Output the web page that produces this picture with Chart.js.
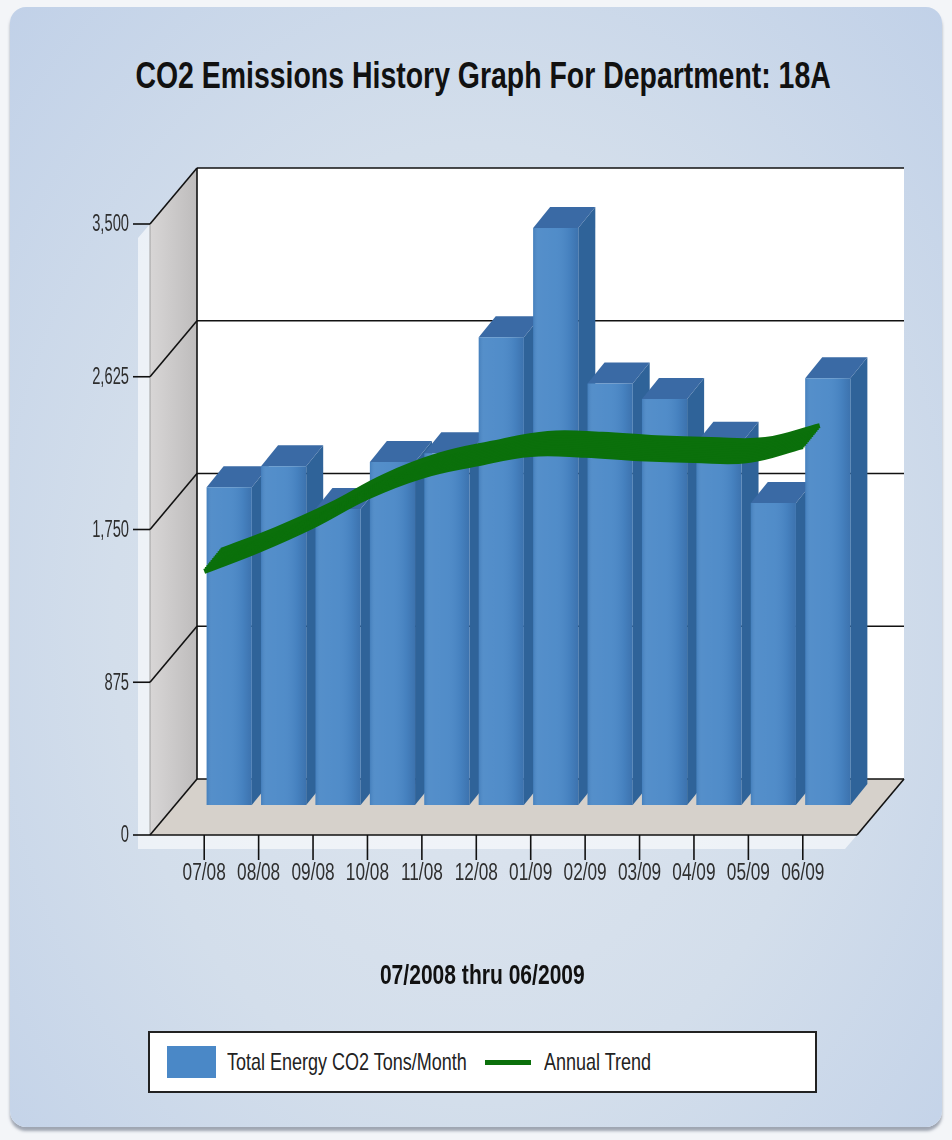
<!DOCTYPE html>
<html>
<head>
<meta charset="utf-8">
<title>CO2 Emissions History Graph For Department: 18A</title>
<script src="https://cdn.jsdelivr.net/npm/chart.js@4.4.1/dist/chart.umd.min.js"></script>
<style>
  html, body { margin: 0; padding: 0; background: #f3f5f8; }
  body {
    width: 952px; height: 1140px; position: relative; overflow: hidden;
    font-family: 'Liberation Sans', Arial, sans-serif;
  }
  .panel {
    position: absolute; left: 10px; top: 7px; width: 932px; height: 1120px;
    border-radius: 16px;
    background: radial-gradient(ellipse at 50% 55%, #dfe6ef 0%, #d3deeb 55%, #c1d1e8 100%);
    box-shadow: 0 4px 3px rgba(90, 100, 120, 0.55);
  }
  #wrap { position: absolute; left: 0; top: 0; width: 952px; height: 1140px; }
  .title, .range {
    position: absolute; left: 0; width: 966px; margin: 0;
    text-align: center; font-weight: bold; color: #111;
  }
  .title { top: 55px; font-size: 36px; line-height: 42px; }
  .range { top: 958px; font-size: 27px; line-height: 34px; width: 964px; }
  .narrow { display: inline-block; white-space: nowrap; }
  #legend {
    position: absolute; left: 148px; top: 1031px; width: 669px; height: 62px;
    box-sizing: border-box; background: #fff; border: 2px solid #222;
    display: flex; align-items: center; padding-left: 17px;
    font-size: 24px; color: #222;
  }
  #legend .narrow { transform-origin: left center; }
  .swatch { width: 49px; height: 32px; margin-right: 11px; flex: none; }
  .stroke { width: 46px; height: 5px; margin: 0 13px 0 18px; flex: none; }
</style>
</head>
<body>
<div class="panel"></div>
<div class="title"><span class="narrow" style="transform: scaleX(0.79)">CO2 Emissions History Graph For Department: 18A</span></div>
<div id="wrap"><canvas id="chart"></canvas></div>
<div class="range"><span class="narrow" style="transform: scaleX(0.78)">07/2008 thru 06/2009</span></div>
<div id="legend"></div>
<script>
const months = ['07/08', '08/08', '09/08', '10/08', '11/08', '12/08',
                '01/09', '02/09', '03/09', '04/09', '05/09', '06/09'];
const co2Tons = [1820, 1940, 1695, 1965, 2015, 2680, 3305, 2415, 2325, 2075, 1730, 2445];
const annualTrend = [1510, 1630, 1770, 1935, 2055, 2125, 2180, 2175, 2155, 2145, 2145, 2225];
const yMax = 3500;
const yStep = 875;

const FONT = "'Liberation Sans', Arial, sans-serif";
const BAR_BLUE = '#4a88c7';
const TREND_GREEN = '#0b700b';
const LEGEND_SQUEEZE = 0.75;

// depth offsets of the front edge, the back wall and one bar, relative to the bar faces
const FRONT = { dx: -25, dy: 30 };
const BACK = { dx: 22, dy: -26 };
const DEPTH = { dx: 17, dy: -21 };
const WALL_SIDE = 27;

function poly(ctx, pts, fill) {
  ctx.beginPath();
  ctx.moveTo(pts[0][0], pts[0][1]);
  for (let i = 1; i < pts.length; i++) ctx.lineTo(pts[i][0], pts[i][1]);
  ctx.closePath();
  ctx.fillStyle = fill;
  ctx.fill();
}

function line(ctx, x1, y1, x2, y2) {
  ctx.beginPath();
  ctx.moveTo(x1, y1);
  ctx.lineTo(x2, y2);
  ctx.stroke();
}

// condensed label: squeeze horizontally around the anchor point
function narrowText(ctx, text, x, y, squeeze) {
  ctx.save();
  ctx.translate(x, y);
  ctx.scale(squeeze, 1);
  ctx.fillText(text, 0, 0);
  ctx.restore();
}

// walls, floor, grid and axis labels of the 3D box
const box3d = {
  id: 'box3d',
  beforeDatasetsDraw(chart) {
    const { ctx, chartArea: a, scales: { x, y } } = chart;
    const left = a.left - WALL_SIDE;
    const right = a.right + WALL_SIDE;
    const y0 = y.getPixelForValue(0);
    const yTop = y.getPixelForValue(yMax);

    ctx.save();
    // pale glow along the outside of the box
    poly(ctx, [[left + FRONT.dx - 12, yTop + FRONT.dy + 14], [left + FRONT.dx, yTop + FRONT.dy],
               [left + FRONT.dx, y0 + FRONT.dy], [right + FRONT.dx, y0 + FRONT.dy],
               [right + FRONT.dx - 12, y0 + FRONT.dy + 14], [left + FRONT.dx - 12, y0 + FRONT.dy + 14]],
         'rgba(255,255,255,0.6)');

    ctx.fillStyle = '#fff';
    ctx.fillRect(left + BACK.dx, yTop + BACK.dy, right - left, y0 - yTop);

    const wall = ctx.createLinearGradient(left + FRONT.dx, 0, left + BACK.dx, 0);
    wall.addColorStop(0, '#d8d6d6');
    wall.addColorStop(1, '#bebcbc');
    poly(ctx, [[left + FRONT.dx, yTop + FRONT.dy], [left + BACK.dx, yTop + BACK.dy],
               [left + BACK.dx, y0 + BACK.dy], [left + FRONT.dx, y0 + FRONT.dy]], wall);

    poly(ctx, [[left + FRONT.dx, y0 + FRONT.dy], [right + FRONT.dx, y0 + FRONT.dy],
               [right + BACK.dx, y0 + BACK.dy], [left + BACK.dx, y0 + BACK.dy]], '#d6d1cb');

    ctx.strokeStyle = '#a0a0a0';
    ctx.lineWidth = 1;
    line(ctx, left + FRONT.dx, yTop + FRONT.dy, left + FRONT.dx, y0 + FRONT.dy);

    ctx.strokeStyle = '#111';
    ctx.lineWidth = 1.6;
    ctx.font = `23px ${FONT}`;
    ctx.fillStyle = '#2e2e2e';
    ctx.textAlign = 'right';
    ctx.textBaseline = 'middle';
    y.ticks.forEach((t) => {
      const py = y.getPixelForValue(t.value);
      line(ctx, left + BACK.dx, py + BACK.dy, right + BACK.dx, py + BACK.dy);
      line(ctx, left + FRONT.dx, py + FRONT.dy, left + BACK.dx, py + BACK.dy);
      line(ctx, left + FRONT.dx - 17, py + FRONT.dy, left + FRONT.dx, py + FRONT.dy);
      narrowText(ctx, t.value.toLocaleString('en-US'), left + FRONT.dx - 21, py + FRONT.dy + 1, 0.64);
    });
    line(ctx, left + BACK.dx, yTop + BACK.dy, left + BACK.dx, y0 + BACK.dy);
    line(ctx, left + FRONT.dx, y0 + FRONT.dy, right + FRONT.dx, y0 + FRONT.dy);
    line(ctx, right + FRONT.dx, y0 + FRONT.dy, right + BACK.dx, y0 + BACK.dy);

    ctx.font = `23px ${FONT}`;
    ctx.textAlign = 'center';
    x.ticks.forEach((t, i) => {
      const px = x.getPixelForValue(i) + FRONT.dx;
      line(ctx, px, y0 + FRONT.dy, px, y0 + FRONT.dy + 25);
      narrowText(ctx, x.getLabelForValue(t.value), px, y0 + FRONT.dy + 39, 0.75);
    });
    ctx.restore();
  },

  // bars get a top and side face; the trend line is swept through the depth
  beforeDatasetDraw(chart, args) {
    const ctx = chart.ctx;
    const meta = args.meta;
    if (meta.type === 'bar') {
      meta.data.forEach((el) => {
        const { x, y, base, width } = el.getProps(['x', 'y', 'base', 'width'], true);
        const l = x - width / 2;
        const r = x + width / 2;
        poly(ctx, [[r, y], [r + DEPTH.dx, y + DEPTH.dy], [r + DEPTH.dx, base + DEPTH.dy], [r, base]], '#2f6399');
        poly(ctx, [[l, y], [l + DEPTH.dx, y + DEPTH.dy], [r + DEPTH.dx, y + DEPTH.dy], [r, y]], '#3a6aa5');
        el.draw(ctx);
        const shade = ctx.createLinearGradient(l, 0, r, 0);
        shade.addColorStop(0, 'rgba(30,70,120,0.15)');
        shade.addColorStop(0.12, 'rgba(255,255,255,0.06)');
        shade.addColorStop(0.5, 'rgba(255,255,255,0.04)');
        shade.addColorStop(0.8, 'rgba(20,50,100,0.08)');
        shade.addColorStop(1, 'rgba(20,50,100,0.25)');
        ctx.fillStyle = shade;
        ctx.fillRect(l, y, width, base - y);
      });
      return false;
    }
    if (meta.type === 'line') {
      const steps = 12;
      for (let k = 0; k <= steps; k++) {
        ctx.save();
        ctx.translate(FRONT.dx + DEPTH.dx * k / steps, FRONT.dy + DEPTH.dy * k / steps);
        meta.controller.draw();
        ctx.restore();
      }
      return false;
    }
  },
};

const chart = new Chart(document.getElementById('chart'), {
  type: 'bar',
  data: {
    labels: months,
    datasets: [
      {
        type: 'line',
        label: 'Annual Trend',
        data: annualTrend,
        borderColor: TREND_GREEN,
        backgroundColor: TREND_GREEN,
        borderWidth: 5,
        tension: 0.4,
        pointRadius: 0,
        fill: false,
        clip: false,
        order: 0,
      },
      {
        label: 'Total Energy CO2 Tons/Month',
        data: co2Tons,
        backgroundColor: BAR_BLUE,
        borderWidth: 0,
        categoryPercentage: 1,
        barPercentage: 0.83,
        clip: false,
        order: 1,
      },
    ],
  },
  options: {
    responsive: true,
    maintainAspectRatio: false,
    animation: false,
    layout: { padding: { left: 202, right: 97, top: 194, bottom: 335 } },
    plugins: { legend: { display: false }, tooltip: { enabled: false } },
    scales: {
      x: { display: false, offset: true },
      y: { display: false, min: 0, max: yMax, ticks: { stepSize: yStep } },
    },
  },
  plugins: [box3d],
});

// legend box, bars first then the trend line
const legend = document.getElementById('legend');
[1, 0].forEach((i) => {
  const ds = chart.data.datasets[i];
  const mark = document.createElement('span');
  mark.className = ds.type === 'line' ? 'stroke' : 'swatch';
  mark.style.background = ds.type === 'line' ? ds.borderColor : ds.backgroundColor;
  const text = document.createElement('span');
  text.className = 'narrow';
  text.textContent = ds.label;
  text.style.transform = `scaleX(${LEGEND_SQUEEZE})`;
  legend.append(mark, text);
  text.style.marginRight = `${-(1 - LEGEND_SQUEEZE) * text.offsetWidth}px`;
});
</script>
</body>
</html>
